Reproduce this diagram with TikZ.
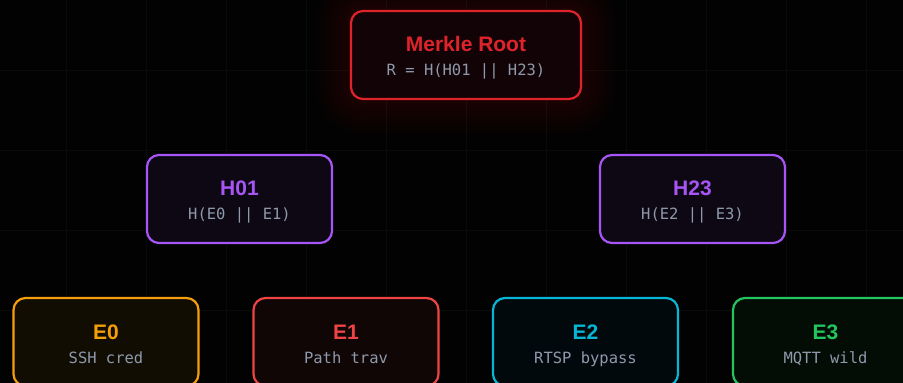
\documentclass[tikz,border=0pt]{standalone}
\usepackage{fontspec}
\setmainfont{Liberation Sans}
\newfontfamily\monof{DejaVu Sans Mono}
\definecolor{bgc}{HTML}{020202}
\definecolor{gridc}{HTML}{080C09}
\definecolor{rootred}{HTML}{E0232B}
\definecolor{rootfill}{HTML}{120406}
\definecolor{purp}{HTML}{A855F7}
\definecolor{purpfill}{HTML}{0D0813}
\definecolor{orng}{HTML}{F59E0B}
\definecolor{orngfill}{HTML}{110D03}
\definecolor{lred}{HTML}{EF4444}
\definecolor{lredfill}{HTML}{110606}
\definecolor{cyn}{HTML}{06B6D4}
\definecolor{cynfill}{HTML}{02090C}
\definecolor{grn}{HTML}{22C55E}
\definecolor{grnfill}{HTML}{030D06}
\definecolor{subc}{HTML}{8E99AB}
\tikzset{
  nbox/.style={draw, rectangle, rounded corners=12pt, line width=2.2pt, inner sep=0pt},
  rootbox/.style={nbox, draw=rootred, fill=rootfill, minimum width=230pt, minimum height=88pt},
  hbox/.style={nbox, draw=purp, fill=purpfill, minimum width=185pt, minimum height=88pt},
  ebox/.style={nbox, minimum width=185pt, minimum height=88pt},
  ttl/.style={anchor=base, inner sep=0pt, font=\fontsize{21}{24}\selectfont\bfseries},
  sub/.style={anchor=base, inner sep=0pt, text=subc, font=\monof\fontsize{15.5}{18}\selectfont},
}
\begin{document}
\begin{tikzpicture}[x=1pt,y=-1pt]
\useasboundingbox (0,0) rectangle (903,383);
\fill[bgc] (0,0) rectangle (903,383);
\begin{scope}
\clip (0,0) rectangle (903,383);
\foreach \gx in {66,146,...,866} \draw[gridc, line width=1pt] (\gx,0) -- (\gx,383);
\foreach \gy in {70,150,230,310} \draw[gridc, line width=1pt] (0,\gy) -- (903,\gy);
% glow around root
\foreach \g in {1,...,12} {
  \fill[rootred, opacity=0.011, rounded corners=12pt+\g*3pt]
    (351-\g*3,11-\g*3) rectangle (581+\g*3,99+\g*3);
}
\node[rootbox] (root) at (466,55) {};
\node[ttl, text=rootred] (rootT) at ([yshift=3.3pt]root.center) {Merkle Root};
\node[sub] (rootS) at ([yshift=-20pt]root.center) {R = H(H01 || H23)};

\node[hbox] (h01) at (239.5,199) {};
\node[ttl, text=purp] (h01T) at ([yshift=4pt]h01.center) {H01};
\node[sub] (h01S) at ([yshift=-20.3pt]h01.center) {H(E0 || E1)};

\node[hbox] (h23) at (692.5,199) {};
\node[ttl, text=purp] (h23T) at ([yshift=4pt]h23.center) {H23};
\node[sub] (h23S) at ([yshift=-20.3pt]h23.center) {H(E2 || E3)};

\node[ebox, draw=orng, fill=orngfill] (e0) at (106,342) {};
\node[ttl, text=orng] (e0T) at ([yshift=2.5pt]e0.center) {E0};
\node[sub] (e0S) at ([yshift=-21pt]e0.center) {SSH cred};

\node[ebox, draw=lred, fill=lredfill] (e1) at (346,342) {};
\node[ttl, text=lred] (e1T) at ([yshift=2.5pt]e1.center) {E1};
\node[sub] (e1S) at ([yshift=-21pt]e1.center) {Path trav};

\node[ebox, draw=cyn, fill=cynfill] (e2) at (585.5,342) {};
\node[ttl, text=cyn] (e2T) at ([yshift=2.5pt]e2.center) {E2};
\node[sub] (e2S) at ([yshift=-21pt]e2.center) {RTSP bypass};

\node[ebox, draw=grn, fill=grnfill] (e3) at (825.5,342) {};
\node[ttl, text=grn] (e3T) at ([yshift=2.5pt]e3.center) {E3};
\node[sub] (e3S) at ([yshift=-21pt]e3.center) {MQTT wild};
\end{scope}
\end{tikzpicture}
\end{document}
